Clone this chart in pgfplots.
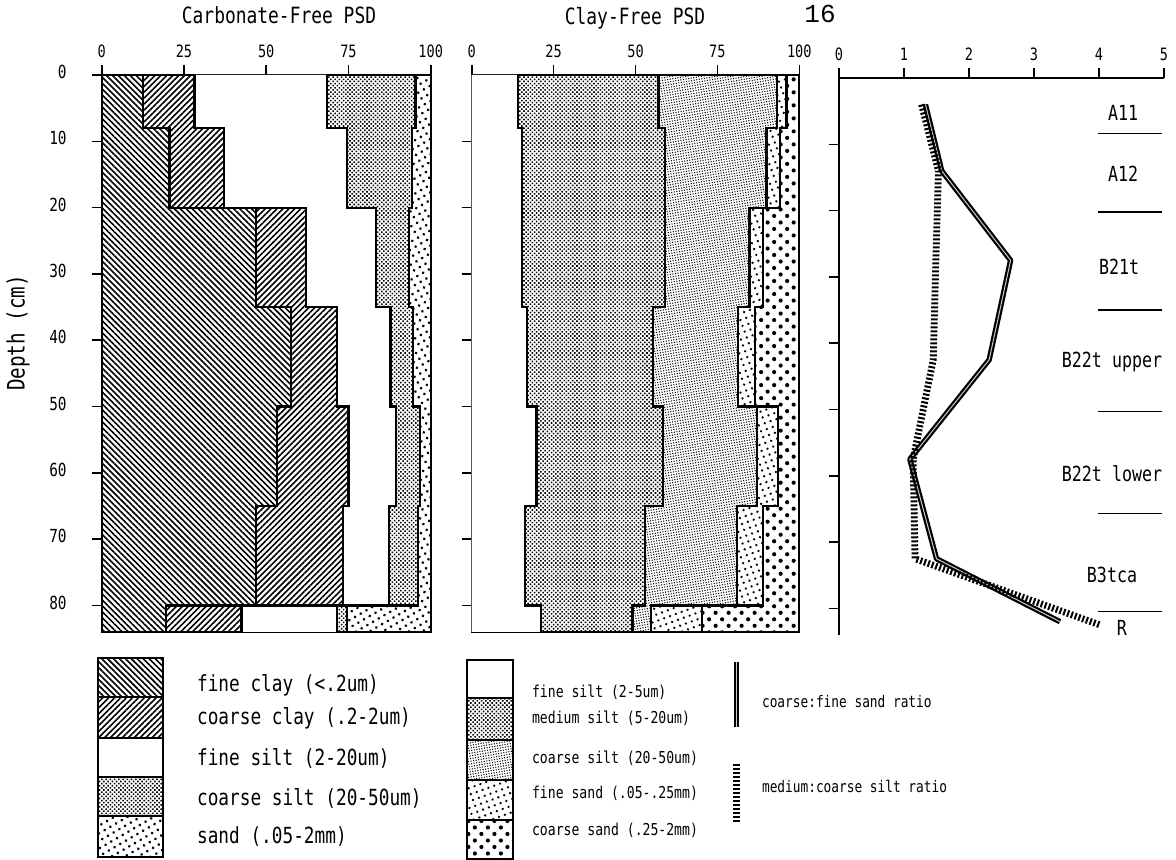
\documentclass[border=0pt]{standalone}
\usepackage{fontspec}
\usepackage{pgfplots}
\pgfplotsset{compat=1.18}
\usepgfplotslibrary{fillbetween}
\usetikzlibrary{patterns.meta}
\newfontfamily\tw{DejaVu Sans Mono}[FakeStretch=0.8]
\newfontfamily\pg{Liberation Mono}
\newcommand\fs[1]{\fontsize{#1}{#1}\selectfont}

\tikzset{
 fclay/.style={pattern={Lines[angle=-45,distance=2.1pt,line width=0.8pt]}},
 cclay/.style={pattern={Lines[angle=45,distance=2.1pt,line width=0.8pt]}},
 csiltL/.style={pattern={Dots[distance=1.5pt,radius=0.55pt,angle=45]}},
 sandL/.style={pattern={Dots[distance=3.3pt,radius=0.75pt,angle=30]}},
 msilt/.style={pattern={Dots[distance=1.5pt,radius=0.55pt,angle=45]}},
 csiltM/.style={pattern={Dots[distance=1.3pt,radius=0.36pt,angle=10]}},
 fsand/.style={pattern={Dots[distance=3.1pt,radius=0.65pt,angle=20]}},
 csand/.style={pattern={Dots[distance=4.6pt,radius=1.05pt,angle=45]}},
 dotline/.style={black, line width=3.4pt, dash pattern=on 1pt off 1pt},
 solline/.style={draw=black, line width=1.1pt, double=gray!40, double distance=0.5pt, line join=round},
}

\pgfplotsset{
 psd/.style={scale only axis, height=278.5pt, y dir=reverse, ymin=0, ymax=84,
   tick align=outside, major tick length=5pt,
   axis line style={line width=1pt},
   every tick/.style={black, line width=0.8pt},
   ticklabel style={font=\tw\fs{8.5}},
   /pgf/number format/assume math mode=true,
   set layers},
 bnd/.style={black, line width=1.1pt},
}

\begin{document}
\begin{tikzpicture}

% ---------------- Carbonate-free PSD ----------------
\begin{axis}[psd, at={(50.85pt,114pt)}, anchor=south west, width=164.5pt,
  xmin=0, xmax=100, xtick={0,25,50,75,100},
  xtick pos=right, xticklabel pos=right,
  ytick={0,10,...,80}, ytick pos=left,
  yticklabel style={font=\tw\fs{9}, xshift=-9pt, yshift=1.5pt}]
\addplot[name path=L0, draw=none] coordinates {(0,0) (0,84)};
\addplot[name path=L1, bnd] coordinates {(12.6,0)(12.6,8)(20.6,8)(20.6,20)(46.8,20)(46.8,35)(57.6,35)(57.6,50)(53.2,50)(53.2,65)(46.8,65)(46.8,80)(19.5,80)(19.5,84)};
\addplot[name path=L2, bnd] coordinates {(28.2,0)(28.2,8)(37.2,8)(37.2,20)(62.1,20)(62.1,35)(71.5,35)(71.5,50)(75.0,50)(75.0,65)(73.3,65)(73.3,80)(42.5,80)(42.5,84)};
\addplot[name path=L3, bnd] coordinates {(68.4,0)(68.4,8)(74.5,8)(74.5,20)(83.3,20)(83.3,35)(87.8,35)(87.8,50)(89.4,50)(89.4,65)(87.3,65)(87.3,80)(71.4,80)(71.4,84)};
\addplot[name path=L4, bnd] coordinates {(95.4,0)(95.4,8)(94.2,8)(94.2,20)(93.5,20)(93.5,35)(94.7,35)(94.7,50)(96.7,50)(96.7,65)(96.2,65)(96.2,80)(74.5,80)(74.5,84)};
\addplot[name path=L5, draw=none] coordinates {(100,0) (100,84)};
\addplot[fclay] fill between[of=L0 and L1];
\addplot[cclay] fill between[of=L1 and L2];
\addplot[fill=white] fill between[of=L2 and L3];
\addplot[csiltL] fill between[of=L3 and L4];
\addplot[sandL] fill between[of=L4 and L5];
\end{axis}

% ---------------- Clay-free PSD ----------------
\begin{axis}[psd, at={(235.85pt,114pt)}, anchor=south west, width=163.8pt,
  xmin=0, xmax=100, xtick={0,25,50,75,100},
  xtick pos=right, xticklabel pos=right,
  ytick={10,20,...,80}, ytick pos=left, yticklabels={}]
\addplot[name path=M0, draw=none] coordinates {(0,0) (0,84)};
\addplot[name path=M1, bnd] coordinates {(14.2,0)(14.2,8)(15.3,8)(15.3,35)(16.8,35)(16.8,50)(19.8,50)(19.8,65)(16.3,65)(16.3,80)(21.2,80)(21.2,84)};
\addplot[name path=M2, bnd] coordinates {(57.0,0)(57.0,8)(59.0,8)(59.0,35)(55.4,35)(55.4,50)(58.3,50)(58.3,65)(52.9,65)(52.9,80)(49.1,80)(49.1,84)};
\addplot[name path=M3, bnd] coordinates {(93.3,0)(93.3,8)(90.0,8)(90.0,20)(84.8,20)(84.8,35)(81.4,35)(81.4,50)(87.0,50)(87.0,65)(80.9,65)(80.9,80)(54.7,80)(54.7,84)};
\addplot[name path=M4, bnd] coordinates {(96.1,0)(96.1,8)(94.1,8)(94.1,20)(89.0,20)(89.0,35)(86.5,35)(86.5,50)(93.6,50)(93.6,65)(89.0,65)(89.0,80)(70.4,80)(70.4,84)};
\addplot[name path=M5, draw=none] coordinates {(100,0) (100,84)};
\addplot[fill=white] fill between[of=M0 and M1];
\addplot[msilt] fill between[of=M1 and M2];
\addplot[csiltM] fill between[of=M2 and M3];
\addplot[fsand] fill between[of=M3 and M4];
\addplot[csand] fill between[of=M4 and M5];
\end{axis}

% ---------------- Ratios ----------------
\begin{axis}[psd, at={(419.5pt,112.5pt)}, anchor=south west, width=162.5pt,
  xmin=0, xmax=5, xtick={0,1,...,5},
  axis x line*=top, axis y line*=left,
  ytick={10,20,...,80}, yticklabels={}, clip=false]
\addplot[solline]
  coordinates {(1.33,4)(1.58,14)(2.64,27.5)(2.31,42.5)(1.09,57.5)(1.50,72.5)(3.40,82)};
\addplot[dotline]
  coordinates {(1.27,4)(1.53,14)(1.49,27.5)(1.45,42.5)(1.14,57.5)(1.17,72.5)(4.02,82.5)};
\draw[line width=0.7pt] (axis cs:3.98,8.4) -- (axis cs:4.97,8.4);
\draw[line width=0.7pt] (axis cs:3.98,20.2) -- (axis cs:4.97,20.2);
\draw[line width=0.7pt] (axis cs:3.98,35) -- (axis cs:4.97,35);
\draw[line width=0.7pt] (axis cs:3.98,50.3) -- (axis cs:4.97,50.3);
\draw[line width=0.7pt] (axis cs:3.98,65.7) -- (axis cs:4.97,65.7);
\draw[line width=0.7pt] (axis cs:3.98,80.5) -- (axis cs:4.97,80.5);
\node[font=\tw\fs{10.4}] at (axis cs:4.37,5.3) {A11};
\node[font=\tw\fs{10.4}] at (axis cs:4.37,14.4) {A12};
\node[font=\tw\fs{10.4}] at (axis cs:4.31,28.5) {B21t};
\node[font=\tw\fs{10.4}] at (axis cs:4.2,42.8) {B22t upper};
\node[font=\tw\fs{10.4}] at (axis cs:4.2,59.6) {B22t lower};
\node[font=\tw\fs{10.4}] at (axis cs:4.2,75) {B3tca};
\node[font=\tw\fs{10.4}] at (axis cs:4.35,83) {R};
\end{axis}

\begin{scope}[x=1pt,y=1pt]
% ---------------- titles ----------------
\node[font=\tw\fs{11.2}] at (139.5,422.2) {Carbonate-Free PSD};
\node[font=\tw\fs{11.2}] at (317.5,421) {Clay-Free PSD};
\node[font=\pg\fs{13}] at (410,423) {16};
\node[font=\tw\fs{12}, rotate=90] at (9,263.5) {Depth (cm)};

% ---------------- legend left ----------------
\draw[line width=1pt, fclay] (49,81.7) rectangle (81.5,100.8);
\draw[line width=1pt, cclay] (49,60.8) rectangle (81.5,81.7);
\draw[line width=1pt, fill=white] (49,41.7) rectangle (81.5,60.8);
\draw[line width=1pt, csiltL] (49,22) rectangle (81.5,41.7);
\draw[line width=1pt, sandL] (49,1.7) rectangle (81.5,22);
\node[font=\tw\fs{11.1}, anchor=west] at (95,87.5) {fine clay (<.2um)};
\node[font=\tw\fs{11.1}, anchor=west] at (95,70.8) {coarse clay (.2-2um)};
\node[font=\tw\fs{11.1}, anchor=west] at (95,50.8) {fine silt (2-20um)};
\node[font=\tw\fs{11.1}, anchor=west] at (95,30.8) {coarse silt (20-50um)};
\node[font=\tw\fs{11.1}, anchor=west] at (95,11.7) {sand (.05-2mm)};

% ---------------- legend middle ----------------
\draw[line width=1pt, fill=white] (233.3,81) rectangle (256.7,100);
\draw[line width=1pt, msilt] (233.3,60) rectangle (256.7,81);
\draw[line width=1pt, csiltM] (233.3,40) rectangle (256.7,60);
\draw[line width=1pt, fsand] (233.3,20) rectangle (256.7,40);
\draw[line width=1pt, csand] (233.3,0.5) rectangle (256.7,20);
\node[font=\tw\fs{8.2}, anchor=west] at (262.5,84) {fine silt (2-5um)};
\node[font=\tw\fs{8.2}, anchor=west] at (262.5,71) {medium silt (5-20um)};
\node[font=\tw\fs{8.2}, anchor=west] at (262.5,51) {coarse silt (20-50um)};
\node[font=\tw\fs{8.2}, anchor=west] at (262.5,33.5) {fine sand (.05-.25mm)};
\node[font=\tw\fs{8.2}, anchor=west] at (262.5,15) {coarse sand (.25-2mm)};

% ---------------- legend right ----------------
\draw[solline] (368.3,66.7) -- (368.3,99.2);
\draw[dotline] (368.3,19.2) -- (368.3,49.2);
\node[font=\tw\fs{8}, anchor=west] at (377.5,79.2) {coarse:fine sand ratio};
\node[font=\tw\fs{8}, anchor=west] at (377.5,36.7) {medium:coarse silt ratio};

\pgfresetboundingbox
\path[use as bounding box] (0,0) rectangle (588,430);
\end{scope}
\end{tikzpicture}
\end{document}
